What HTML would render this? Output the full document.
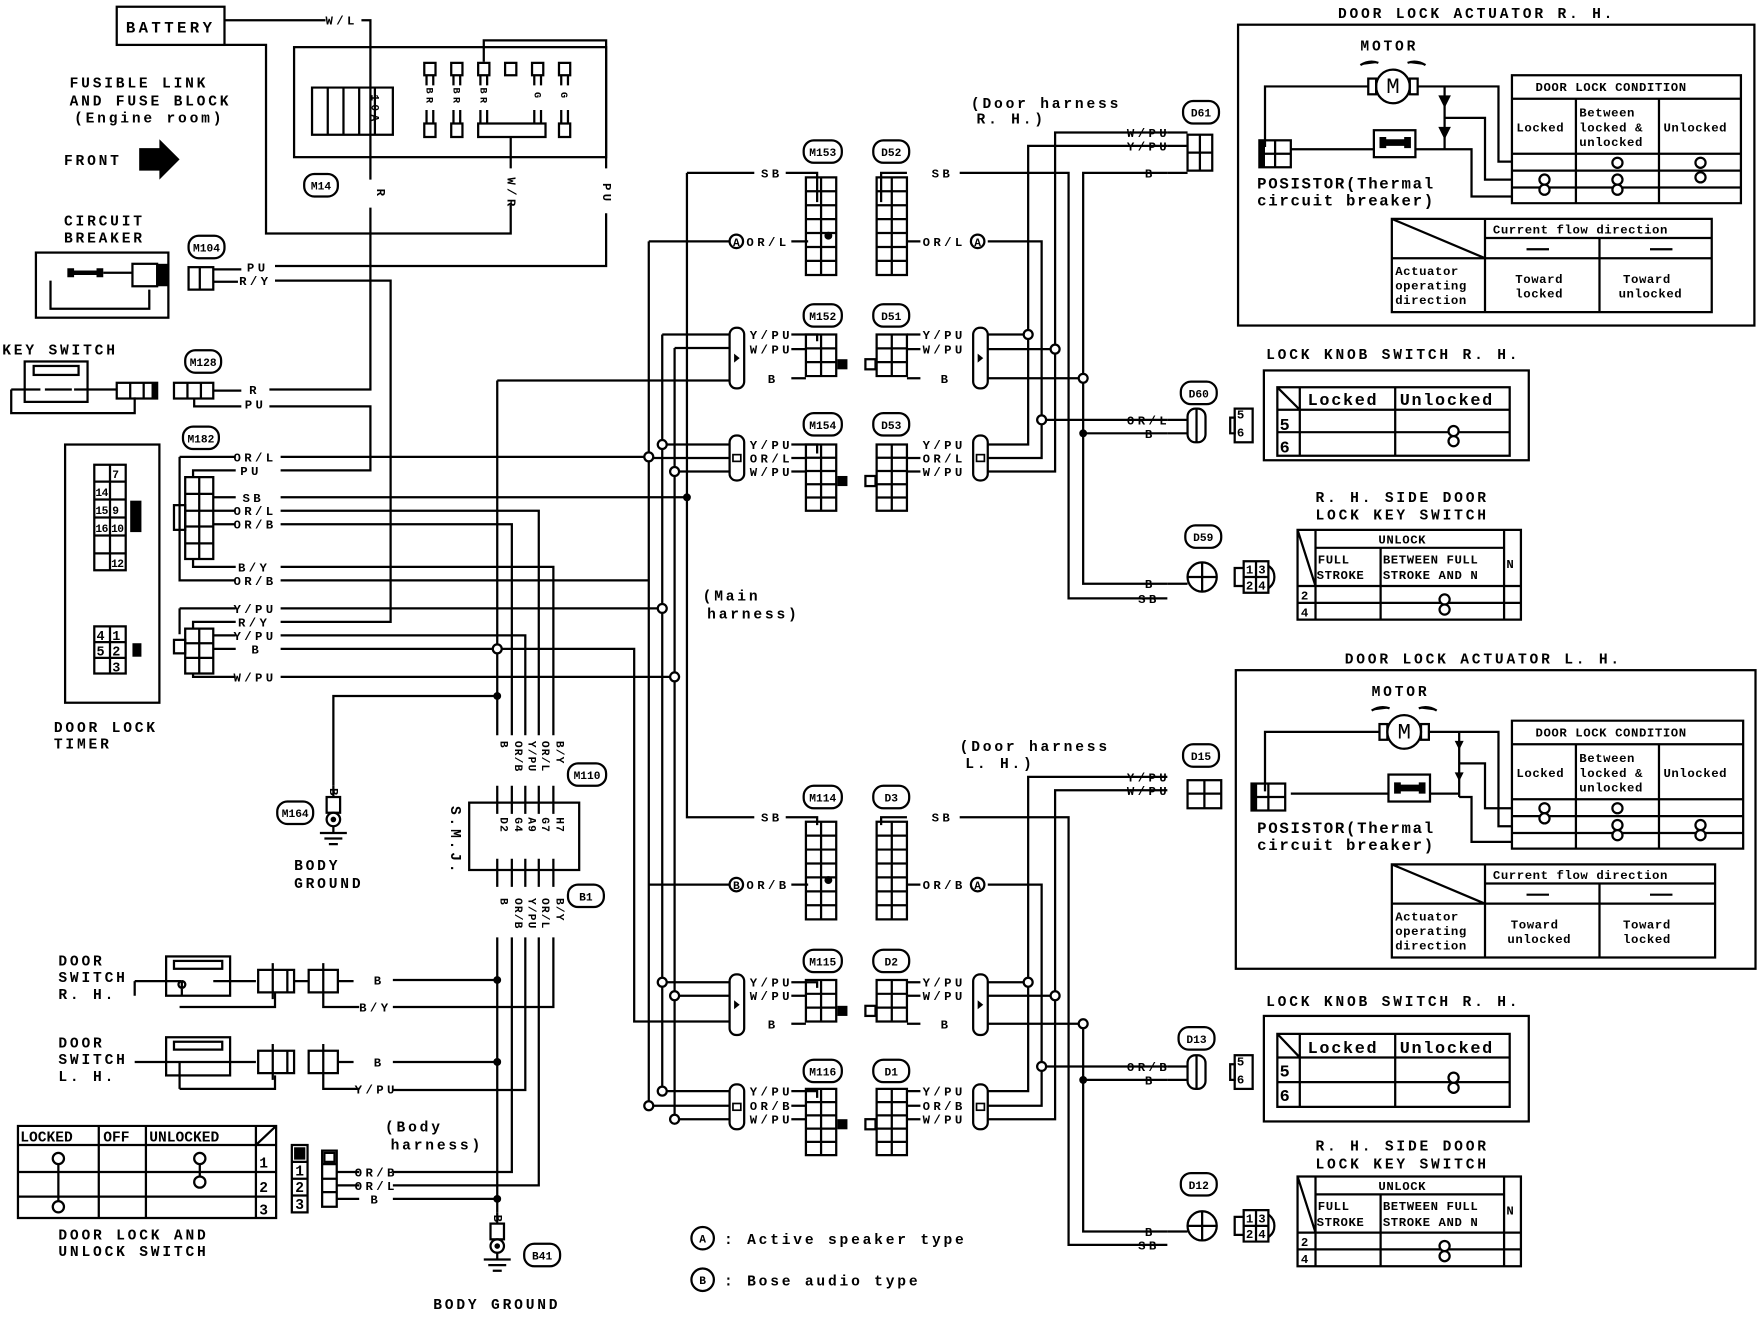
<!DOCTYPE html>
<html><head><meta charset="utf-8"><style>
html,body{margin:0;padding:0;background:#fff}
svg{display:block}
text{font-family:"Liberation Mono",monospace;font-weight:bold;fill:#000}
.s{font-size:11px;letter-spacing:3px}
.m{font-size:13px;letter-spacing:2.5px}
.l{font-size:14px;letter-spacing:3px}
.n{font-size:12px;letter-spacing:0.5px;font-weight:normal}
.o{font-size:10px;letter-spacing:0}
</style></head><body>
<svg width="1760" height="1328" viewBox="0 0 1568 1183" preserveAspectRatio="none" xmlns="http://www.w3.org/2000/svg">
<defs>
<symbol id="g7" overflow="visible"><path d="M0 0H27V87H0Z M13.5 0V87 M0 12.4H27 M0 24.8H27 M0 37.2H27 M0 49.6H27 M0 62H27 M0 74.4H27" fill="none" stroke="#000" stroke-width="2"/></symbol>
<symbol id="g3" overflow="visible"><path d="M0 0H27V37H0Z M13.5 0V37 M0 12.3H27 M0 24.6H27" fill="none" stroke="#000" stroke-width="2"/></symbol>
<symbol id="g5" overflow="visible"><path d="M0 0H27V59H0Z M13.5 0V59 M0 11.8H27 M0 23.6H27 M0 35.4H27 M0 47.2H27" fill="none" stroke="#000" stroke-width="2"/></symbol>
<symbol id="cap" overflow="visible"><rect x="0" y="0" width="13" height="54" rx="6" fill="#fff" stroke="#000" stroke-width="2"/><path d="M4 23L9 27L4 31Z" fill="#000"/></symbol>
<symbol id="capb" overflow="visible"><rect x="0" y="0" width="13" height="40" rx="6" fill="#fff" stroke="#000" stroke-width="2"/><rect x="3" y="17" width="7" height="6" fill="none" stroke="#000" stroke-width="1.5"/></symbol>
<symbol id="gnd" overflow="visible"><rect x="-6" y="0" width="12" height="14" fill="#fff" stroke="#000" stroke-width="2"/><circle cx="0" cy="20" r="6" fill="#fff" stroke="#000" stroke-width="2"/><circle cx="0" cy="20" r="2.5" fill="#000"/><path d="M0 26V32 M-12 32H12 M-8 37H8 M-4 42H4" stroke="#000" stroke-width="2"/></symbol>
<symbol id="oc" overflow="visible"><circle cx="0" cy="-4" r="4.5" fill="#fff" stroke="#000" stroke-width="2"/><circle cx="0" cy="5" r="4.5" fill="#fff" stroke="#000" stroke-width="2"/><path d="M0 0.5V1" stroke="#000" stroke-width="2"/></symbol>
<symbol id="oc1" overflow="visible"><circle cx="0" cy="0" r="4.5" fill="#fff" stroke="#000" stroke-width="2"/></symbol>
</defs>

<g fill="none" stroke="#000" stroke-width="2">
<rect x="104" y="6" width="96" height="34"/>
<path d="M200 18H290 M322 18H330V140 M200 40H237V208H455V182 M455 150V122 M431 55V36H540V150 M540 190V237H245 M330 140V160 M330 185V347H240 M240 362H330V419H250 M245 250H348V554H250"/>
<rect x="262" y="42" width="278" height="98"/>
<path d="M278 78H350V120H278Z M292 78V120 M306 78V120 M320 78V120 M334 78V120"/>
<path d="M378 56h10v11h-10z M380 67v9 M386 67v9 M380 98v12 M386 98v12 M378 110h10v12h-10z
M402 56h10v11h-10z M404 67v9 M410 67v9 M404 98v12 M410 98v12 M402 110h10v12h-10z
M426 56h10v11h-10z M428 67v9 M434 67v9 M428 98v12 M434 98v12
M450 56h10v11h-10z
M474 56h10v11h-10z M476 67v9 M482 67v9 M476 98v12 M482 98v12
M498 56h10v11h-10z M500 67v9 M506 67v9 M500 98v12 M506 98v12 M498 110h10v12h-10z
M426 110H486V122H426Z"/>
<rect x="32" y="225" width="118" height="58"/>
<path d="M92 243H118 M45 250V275H133V258"/>
<rect x="118" y="235" width="22" height="20"/>
<rect x="168" y="238" width="22" height="20"/><path d="M178 238V258 M190 240H215 M190 251H212"/>
<rect x="22" y="322" width="56" height="36"/><rect x="30" y="326" width="40" height="8"/>
<path d="M10 347H36 M66 347H104 M10 347V368H120V354 M40 347H64"/>
<rect x="104" y="341" width="36" height="14"/><path d="M116 341V355 M128 341V355"/>
<rect x="155" y="341" width="35" height="14"/><path d="M167 341V355 M179 341V355 M190 348H215 M173 355V362H215"/>
<rect x="58" y="396" width="84" height="230"/>
<path d="M84 414H112V508H84Z M98 414V508 M84 429H112 M84 445H112 M84 461H112 M84 477H112 M84 493H112"/>
<path d="M84 558H112V600H84Z M98 558V600 M84 572H112 M84 586H112"/>
<path d="M165 425H190V498H165Z M177.5 425V498 M165 440H190 M165 455H190 M165 469H190 M165 484H190"/>
<rect x="155" y="450" width="10" height="22"/>
<path d="M190 443H210 M190 455H210 M190 467H210 M160 407H210 M160 407V517H210 M172 425V419H210 M172 498V505H210"/>
<path d="M165 560H190V600H165Z M177.5 560V600 M165 573H190 M165 586H190"/>
<rect x="155" y="570" width="10" height="12"/>
<path d="M160 542H210 M160 542V565 M172 560V554H210 M190 566H210 M190 578H210 M172 600V603H210"/>
<path d="M250 407H578 M250 443H612 M250 455H480V655 M250 467H456V655 M250 505H493V655 M250 517H578 M250 542H590 M250 566H468V655 M250 578H565V910H650 M250 603H601 M443 339H650 M443 339V655 M443 620H297V700"/>
<rect x="418" y="715" width="98" height="60"/>
<path d="M443 700V725 M456 700V725 M468 700V725 M480 700V725 M493 700V725 M443 765V790 M456 765V790 M468 765V790 M480 765V790 M493 765V790"/>
<path d="M443 835V1080 M456 835V1044H350 M468 835V971H350 M480 835V1056H350 M493 835V897H350 M350 873H443 M350 946H443 M350 1068H443"/>
<rect x="148" y="852" width="57" height="35"/><rect x="155" y="856" width="43" height="7"/>
<path d="M120 874H162 M190 874H228 M162 874a3 3 0 1 0 0.1 0 M120 874V887 M245 885V897H160 M162 887V874"/>
<path d="M230 864h26v20h-26z M243 858v32 M256 864h6v20h-6z M275 864h26v20h-26z M288 858v32 M301 874H315 M288 890V897H320 M262 874H270 M275 874H268"/>
<rect x="148" y="924" width="57" height="34"/><rect x="155" y="928" width="43" height="7"/>
<path d="M120 946H228 M245 958V970H160 M160 970V946"/>
<path d="M230 936h26v20h-26z M243 930v32 M256 936h6v20h-6z M275 936h26v20h-26z M288 930v32 M301 946H315 M288 962V970H320"/>
<path d="M16 1003H246V1085H16Z M16 1020H246 M16 1044H246 M16 1066H246 M88 1003V1085 M130 1003V1085 M228 1003V1085 M228 1020L246 1003"/>
<path d="M52 1036V1076 M178 1036V1054"/>
<path d="M260 1020h14v60h-14z M260 1035h14 M260 1050h14 M260 1065h14 M287 1025h13v50h-13z M287 1037h13 M287 1050h13 M287 1062h13 M300 1044H320 M300 1056H320 M300 1068H320"/>
<path d="M612 154H672 M612 154V728H672 M578 215H650 M578 215V985 M590 298V972 M601 310V997 M590 298H650 M601 310H650 M590 396H650 M578 408H650 M601 420H650 M578 788H650 M590 875H650 M601 887H650 M590 972H650 M578 985H650 M601 997H650"/>
<path d="M700 154H728V180 M705 215H720 M705 298H728V304 M705 311H718 M705 337H718 M705 396H728V404 M705 408H718 M705 420H718 M700 728H728V735 M705 788H720 M705 875H728V880 M705 887H718 M705 912H718 M705 972H728V978 M705 985H718 M705 997H718"/>
<path d="M855 154H952V533H1040 M1040 154H965V520H1040 M808 154H785V180 M880 215H928V408H880 M928 374H1040 M880 298H916 M880 311H940 M880 337H965 M880 396H916V130H1040 M880 420H940V118H1040 M965 386H1040 M808 215H820 M820 298H808 M820 311H808 M820 337H808 M820 408H808 M820 420H808"/>
<path d="M855 728H952V1109H1040 M808 728H785V735 M880 912H965V1097H1040 M965 962H1040 M1040 692H916V972H880 M880 875H916 M1040 704H940V997H880 M880 887H940 M880 788H928V985H880 M928 950H1040 M808 788H820 M820 875H808 M820 887H808 M820 912H808 M820 972H808 M820 985H808 M820 997H808"/>
</g>

<use href="#g7" x="718" y="158"/><use href="#g7" x="781" y="158"/>
<use href="#g3" x="718" y="298"/><use href="#g3" x="781" y="298"/>
<use href="#g5" x="718" y="396"/><use href="#g5" x="781" y="396"/>
<use href="#g7" x="718" y="732"/><use href="#g7" x="781" y="732"/>
<use href="#g3" x="718" y="873"/><use href="#g3" x="781" y="873"/>
<use href="#g5" x="718" y="970"/><use href="#g5" x="781" y="970"/>
<use href="#cap" x="650" y="292"/><use href="#cap" x="867" y="292"/>
<use href="#capb" x="650" y="388"/><use href="#capb" x="867" y="388"/>
<use href="#cap" x="650" y="868"/><use href="#cap" x="867" y="868"/>
<use href="#capb" x="650" y="966"/><use href="#capb" x="867" y="966"/>
<g fill="#000"><circle cx="738" cy="210" r="3.5"/><circle cx="738" cy="784" r="3.5"/><rect x="746" y="320" width="9" height="9"/><rect x="746" y="424" width="9" height="9"/><rect x="746" y="896" width="9" height="9"/><rect x="746" y="997" width="9" height="9"/></g>
<g fill="#fff" stroke="#000" stroke-width="2"><rect x="771" y="320" width="9" height="9"/><rect x="771" y="424" width="9" height="9"/><rect x="771" y="896" width="9" height="9"/><rect x="771" y="997" width="9" height="9"/></g>

<g fill="#fff" stroke="#000" stroke-width="2">
<circle cx="578" cy="407" r="4"/><circle cx="590" cy="396" r="4"/><circle cx="601" cy="420" r="4"/><circle cx="590" cy="542" r="4"/><circle cx="601" cy="603" r="4"/><circle cx="443" cy="578" r="4"/>
<circle cx="916" cy="298" r="4"/><circle cx="940" cy="311" r="4"/><circle cx="965" cy="337" r="4"/><circle cx="928" cy="374" r="4"/>
<circle cx="590" cy="875" r="4"/><circle cx="601" cy="887" r="4"/><circle cx="578" cy="985" r="4"/><circle cx="590" cy="972" r="4"/><circle cx="601" cy="997" r="4"/>
<circle cx="916" cy="875" r="4"/><circle cx="940" cy="887" r="4"/><circle cx="965" cy="912" r="4"/><circle cx="928" cy="950" r="4"/>
<circle cx="656" cy="215" r="6"/><circle cx="871" cy="215" r="6"/><circle cx="656" cy="788" r="6"/><circle cx="871" cy="788" r="6"/>
<circle cx="626" cy="1103" r="10"/><circle cx="626" cy="1140" r="10"/>
</g>
<g fill="#000"><circle cx="612" cy="443" r="3.5"/><circle cx="443" cy="620" r="3.5"/><circle cx="965" cy="386" r="3.5"/><circle cx="965" cy="962" r="3.5"/><circle cx="443" cy="873" r="3.5"/><circle cx="443" cy="946" r="3.5"/><circle cx="443" cy="1068" r="3.5"/></g>
<g class="o" text-anchor="middle"><text x="656" y="219">A</text><text x="871" y="219">A</text><text x="656" y="792">B</text><text x="871" y="792">A</text></g>

<use href="#gnd" x="297" y="710"/><use href="#gnd" x="443" y="1090"/>
<path d="M297 700V710 M443 1080V1090" stroke="#000" stroke-width="2"/>

<g fill="#fff" stroke="#000" stroke-width="2">
<rect x="271" y="155" width="30" height="20" rx="9"/><rect x="168" y="210" width="32" height="20" rx="9"/><rect x="165" y="312" width="32" height="20" rx="9"/><rect x="163" y="380" width="32" height="20" rx="9"/>
<rect x="247" y="714" width="32" height="20" rx="9"/><rect x="506" y="680" width="34" height="20" rx="9"/><rect x="506" y="788" width="32" height="20" rx="9"/><rect x="467" y="1108" width="32" height="20" rx="9"/>
<rect x="716" y="125" width="34" height="20" rx="9"/><rect x="778" y="125" width="32" height="20" rx="9"/><rect x="716" y="271" width="34" height="20" rx="9"/><rect x="778" y="271" width="32" height="20" rx="9"/><rect x="716" y="368" width="34" height="20" rx="9"/><rect x="778" y="368" width="32" height="20" rx="9"/>
<rect x="716" y="700" width="34" height="20" rx="9"/><rect x="778" y="700" width="32" height="20" rx="9"/><rect x="716" y="846" width="34" height="20" rx="9"/><rect x="778" y="846" width="32" height="20" rx="9"/><rect x="716" y="944" width="34" height="20" rx="9"/><rect x="778" y="944" width="32" height="20" rx="9"/>
<rect x="1054" y="90" width="32" height="20" rx="9"/><rect x="1052" y="340" width="32" height="20" rx="9"/><rect x="1056" y="468" width="32" height="20" rx="9"/>
<rect x="1054" y="663" width="32" height="20" rx="9"/><rect x="1050" y="915" width="32" height="20" rx="9"/><rect x="1052" y="1045" width="32" height="20" rx="9"/>
</g>
<g class="o" text-anchor="middle">
<text x="286" y="169">M14</text><text x="184" y="224">M104</text><text x="181" y="326">M128</text><text x="179" y="394">M182</text>
<text x="263" y="728">M164</text><text x="523" y="694">M110</text><text x="522" y="802">B1</text><text x="483" y="1122">B41</text>
<text x="733" y="139">M153</text><text x="794" y="139">D52</text><text x="733" y="285">M152</text><text x="794" y="285">D51</text><text x="733" y="382">M154</text><text x="794" y="382">D53</text>
<text x="733" y="714">M114</text><text x="794" y="714">D3</text><text x="733" y="860">M115</text><text x="794" y="860">D2</text><text x="733" y="958">M116</text><text x="794" y="958">D1</text>
<text x="1070" y="104">D61</text><text x="1068" y="354">D60</text><text x="1072" y="482">D59</text>
<text x="1070" y="677">D15</text><text x="1066" y="929">D13</text><text x="1068" y="1059">D12</text>
</g>

<text x="152" y="29" class="l" text-anchor="middle">BATTERY</text>
<text x="290" y="22" class="s">W/L</text>
<g class="m"><text x="62" y="78">FUSIBLE LINK</text><text x="62" y="94">AND FUSE BLOCK</text><text x="66" y="109">(Engine room)</text>
<text x="57" y="147">FRONT</text><text x="57" y="201">CIRCUIT</text><text x="57" y="216">BREAKER</text><text x="2" y="316">KEY SWITCH</text>
<text x="48" y="652">DOOR LOCK</text><text x="48" y="667">TIMER</text><text x="262" y="775">BODY</text><text x="262" y="791">GROUND</text>
<text x="52" y="860">DOOR</text><text x="52" y="875">SWITCH</text><text x="52" y="890">R. H.</text>
<text x="52" y="933">DOOR</text><text x="52" y="948">SWITCH</text><text x="52" y="963">L. H.</text>
<text x="52" y="1104">DOOR LOCK AND</text><text x="52" y="1119">UNLOCK SWITCH</text>
<text x="343" y="1008">(Body</text><text x="348" y="1024">harness)</text>
<text x="386" y="1166">BODY GROUND</text>
<text x="626" y="535">(Main</text><text x="630" y="551">harness)</text>
<text x="645" y="1108">: Active speaker type</text><text x="645" y="1145">: Bose audio type</text>
<text x="865" y="96">(Door harness</text><text x="870" y="110">R. H.)</text>
<text x="855" y="669">(Door harness</text><text x="860" y="684">L. H.)</text>
</g>
<path d="M124 132H142V124L160 142L142 160V152H124Z" fill="#000"/>
<path d="M60 239h6v8h-6z M86 239h6v8h-6z M66 241H86v4H66z" fill="#000"/>
<rect x="140" y="235" width="10" height="20" fill="#000"/>
<rect x="135" y="341" width="5" height="14" fill="#000"/>
<rect x="116" y="446" width="10" height="28" fill="#000"/>
<rect x="118" y="573" width="8" height="12" fill="#000"/>
<g class="n" style="font-size:10px;letter-spacing:-0.5px"><text x="100" y="426">7</text><text x="85" y="442">14</text><text x="85" y="458">15</text><text x="100" y="458">9</text><text x="85" y="474">16</text><text x="99" y="474">10</text><text x="99" y="505">12</text></g>
<g class="n"><text x="86" y="570">4</text><text x="100" y="570">1</text><text x="86" y="584">5</text><text x="100" y="584">2</text><text x="100" y="598">3</text></g>
<g class="s"><text x="220" y="242">PU</text><text x="213" y="254">R/Y</text><text x="222" y="351">R</text><text x="218" y="364">PU</text>
<text x="208" y="411">OR/L</text><text x="214" y="423">PU</text><text x="216" y="447">SB</text><text x="208" y="459">OR/L</text><text x="208" y="471">OR/B</text><text x="212" y="509">B/Y</text><text x="208" y="521">OR/B</text>
<text x="208" y="546">Y/PU</text><text x="212" y="558">R/Y</text><text x="208" y="570">Y/PU</text><text x="224" y="582">B</text><text x="208" y="607">W/PU</text>
<text x="333" y="877">B</text><text x="320" y="901">B/Y</text><text x="333" y="950">B</text><text x="316" y="974">Y/PU</text>
<text x="316" y="1048">OR/B</text><text x="316" y="1060">OR/L</text><text x="330" y="1072">B</text>
<text x="678" y="158">SB</text><text x="665" y="219">OR/L</text><text x="668" y="302">Y/PU</text><text x="668" y="315">W/PU</text><text x="684" y="341">B</text>
<text x="668" y="400">Y/PU</text><text x="668" y="412">OR/L</text><text x="668" y="424">W/PU</text>
<text x="830" y="158">SB</text><text x="822" y="219">OR/L</text><text x="822" y="302">Y/PU</text><text x="822" y="315">W/PU</text><text x="838" y="341">B</text>
<text x="822" y="400">Y/PU</text><text x="822" y="412">OR/L</text><text x="822" y="424">W/PU</text>
<text x="678" y="732">SB</text><text x="665" y="792">OR/B</text><text x="668" y="879">Y/PU</text><text x="668" y="891">W/PU</text><text x="684" y="916">B</text>
<text x="668" y="976">Y/PU</text><text x="668" y="989">OR/B</text><text x="668" y="1001">W/PU</text>
<text x="830" y="732">SB</text><text x="822" y="792">OR/B</text><text x="822" y="879">Y/PU</text><text x="822" y="891">W/PU</text><text x="838" y="916">B</text>
<text x="822" y="976">Y/PU</text><text x="822" y="989">OR/B</text><text x="822" y="1001">W/PU</text>
<text x="1004" y="122">W/PU</text><text x="1004" y="134">Y/PU</text><text x="1020" y="158">B</text>
<text x="1004" y="378">OR/L</text><text x="1020" y="390">B</text><text x="1020" y="524">B</text><text x="1014" y="537">SB</text>
<text x="1004" y="696">Y/PU</text><text x="1004" y="708">W/PU</text>
<text x="1004" y="954">OR/B</text><text x="1020" y="966">B</text><text x="1020" y="1101">B</text><text x="1014" y="1113">SB</text>
</g>
<g class="s">
<text transform="translate(336,168) rotate(90)">R</text>
<text transform="translate(452,158) rotate(90)">W/R</text>
<text transform="translate(537,163) rotate(90)">PU</text>
<text transform="translate(380,78) rotate(90)" font-size="9">BR</text><text transform="translate(404,78) rotate(90)" font-size="9">BR</text><text transform="translate(428,78) rotate(90)" font-size="9">BR</text><text transform="translate(476,82) rotate(90)" font-size="9">G</text><text transform="translate(500,82) rotate(90)" font-size="9">G</text>
<text transform="translate(331,84) rotate(90)" font-size="10">10A</text>
<text transform="translate(294,702) rotate(90)">B</text><text transform="translate(440,1082) rotate(90)">B</text>
<text transform="translate(402,718) rotate(90)" class="m">S.M.J.</text>
</g>
<g style="font-size:10px;letter-spacing:1px">
<text transform="translate(446,660) rotate(90)">B</text><text transform="translate(459,660) rotate(90)">OR/B</text><text transform="translate(471,660) rotate(90)">Y/PU</text><text transform="translate(483,660) rotate(90)">OR/L</text><text transform="translate(496,660) rotate(90)">B/Y</text>
<text transform="translate(446,728) rotate(90)">D2</text><text transform="translate(459,728) rotate(90)">G4</text><text transform="translate(471,728) rotate(90)">A9</text><text transform="translate(483,728) rotate(90)">G7</text><text transform="translate(496,728) rotate(90)">H7</text>
<text transform="translate(446,800) rotate(90)">B</text><text transform="translate(459,800) rotate(90)">OR/B</text><text transform="translate(471,800) rotate(90)">Y/PU</text><text transform="translate(483,800) rotate(90)">OR/L</text><text transform="translate(496,800) rotate(90)">B/Y</text>
</g>
<g style="font-size:13px;font-weight:normal"><text x="18" y="1017">LOCKED</text><text x="92" y="1017">OFF</text><text x="133" y="1017">UNLOCKED</text>
<text x="231" y="1040">1</text><text x="231" y="1062">2</text><text x="231" y="1082">3</text><text x="263" y="1047">1</text><text x="263" y="1062">2</text><text x="263" y="1077">3</text></g>
<rect x="262" y="1022" width="10" height="11" fill="#000"/>
<g fill="#fff" stroke="#000" stroke-width="2"><circle cx="52" cy="1032" r="5"/><circle cx="52" cy="1075" r="5"/><circle cx="178" cy="1032" r="5"/><circle cx="178" cy="1053" r="5"/><rect x="289" y="1027" width="9" height="8"/></g>
<text x="626" y="1107" class="o" text-anchor="middle">A</text><text x="626" y="1144" class="o" text-anchor="middle">B</text>

<g fill="none" stroke="#000" stroke-width="2">
<rect x="1058" y="120" width="22" height="32"/><path d="M1069 120V152 M1058 136H1080 M1040 118H1058 M1040 130H1058 M1040 154H1058"/>
<rect x="1058" y="364" width="16" height="30" rx="7"/><path d="M1040 374H1058 M1040 386H1058 M1066 364V394"/>
<rect x="1100" y="364" width="16" height="30"/><path d="M1096 372h4v14h-4z"/>
<circle cx="1071" cy="514" r="13"/><path d="M1058 514H1084 M1071 501V527 M1040 520H1058"/>
<path d="M1108 500H1130V528H1108Z M1119 500V528 M1108 514H1130 M1100 506h8v16h-8z M1130 504a12 12 0 0 1 0 20"/>
<rect x="1058" y="695" width="30" height="25"/><path d="M1073 695V720 M1058 707H1088"/>
<rect x="1058" y="940" width="16" height="30" rx="7"/><path d="M1040 950H1058 M1040 962H1058 M1066 940V970"/>
<rect x="1100" y="940" width="16" height="30"/><path d="M1096 948h4v14h-4z"/>
<circle cx="1071" cy="1092" r="13"/><path d="M1058 1092H1084 M1071 1079V1105 M1040 1097H1058"/>
<path d="M1108 1078H1130V1106H1108Z M1119 1078V1106 M1108 1092H1130 M1100 1084h8v16h-8z M1130 1082a12 12 0 0 1 0 20"/>
</g>
<g class="n" style="font-size:11px"><text x="1102" y="373">5</text><text x="1102" y="389">6</text><text x="1102" y="949">5</text><text x="1102" y="965">6</text>
<text x="1110" y="511">1</text><text x="1121" y="511">3</text><text x="1110" y="525">2</text><text x="1121" y="525">4</text>
<text x="1110" y="1089">1</text><text x="1121" y="1089">3</text><text x="1110" y="1103">2</text><text x="1121" y="1103">4</text></g>

<g fill="none" stroke="#000" stroke-width="2">
<rect x="1126" y="330" width="236" height="80"/><path d="M1138 345H1345V406H1138Z M1158 345V406 M1243 345V406 M1138 365H1345 M1138 385H1345 M1138 345L1158 365"/>
<rect x="1126" y="905" width="236" height="94"/><path d="M1138 921H1345V986H1138Z M1158 921V986 M1243 921V986 M1138 942H1345 M1138 964H1345 M1138 921L1158 942"/>
<path d="M1156 472H1355V552H1156Z M1172 472V552 M1230 488V552 M1340 472V552 M1172 488H1340 M1156 522H1355 M1156 537H1355 M1156 472L1172 522"/>
<path d="M1156 1048H1355V1128H1156Z M1172 1048V1128 M1230 1064V1128 M1340 1048V1128 M1172 1064H1340 M1156 1098H1355 M1156 1113H1355 M1156 1048L1172 1098"/>
</g>
<use href="#oc" x="1295" y="388"/><use href="#oc" x="1295" y="964"/><use href="#oc" x="1287" y="538"/><use href="#oc" x="1287" y="1114"/>
<g style="font-size:15px;letter-spacing:1.5px;font-weight:normal"><text x="1165" y="361">Locked</text><text x="1247" y="361">Unlocked</text><text x="1140" y="383">5</text><text x="1140" y="403">6</text>
<text x="1165" y="938">Locked</text><text x="1247" y="938">Unlocked</text><text x="1140" y="959">5</text><text x="1140" y="981">6</text></g>
<g class="m"><text x="1128" y="320">LOCK KNOB SWITCH R. H.</text><text x="1172" y="447">R. H.  SIDE DOOR</text><text x="1172" y="463">LOCK KEY SWITCH</text>
<text x="1128" y="896">LOCK KNOB SWITCH R. H.</text><text x="1172" y="1025">R. H.  SIDE DOOR</text><text x="1172" y="1041">LOCK KEY SWITCH</text></g>
<g style="font-size:11px;letter-spacing:0.5px"><text x="1228" y="484">UNLOCK</text><text x="1174" y="502">FULL</text><text x="1173" y="516">STROKE</text><text x="1232" y="502">BETWEEN FULL</text><text x="1232" y="516">STROKE AND N</text><text x="1342" y="506">N</text><text x="1159" y="534">2</text><text x="1159" y="549">4</text>
<text x="1228" y="1060">UNLOCK</text><text x="1174" y="1078">FULL</text><text x="1173" y="1092">STROKE</text><text x="1232" y="1078">BETWEEN FULL</text><text x="1232" y="1092">STROKE AND N</text><text x="1342" y="1082">N</text><text x="1159" y="1110">2</text><text x="1159" y="1125">4</text></g>

<g fill="none" stroke="#000" stroke-width="2">
<rect x="1103" y="22" width="460" height="268"/>
<circle cx="1241" cy="77" r="15"/><rect x="1219" y="70" width="7" height="14"/><rect x="1256" y="70" width="7" height="14"/>
<path d="M1127 131V77H1219 M1263 77H1287V133 M1150 133H1224 M1261 133H1287 M1287 77H1335V144H1347 M1287 105H1323V160H1347 M1287 133H1311V175H1347"/>
<rect x="1224" y="116" width="37" height="24"/>
<rect x="1122" y="125" width="28" height="24"/><path d="M1136 125V149 M1122 137H1150"/>
<path d="M1347 67H1551V181H1347Z M1347 88H1551 M1347 137H1551 M1347 152H1551 M1347 167H1551 M1404 88V181 M1478 88V181"/>
<path d="M1240 195H1525V278H1240Z M1323 195V278 M1240 230H1525 M1323 212H1525 M1425 212V278 M1240 195L1323 230"/>
</g>
<path d="M1122 125h5v24h-5z M1231 124h24v6h-24z M1229 122h6v10h-6z M1251 122h6v10h-6z" fill="#000"/>
<path d="M1283 86L1291 86L1287 94Z M1283 114L1291 114L1287 122Z M1212 58Q1220 53 1228 56 M1254 56Q1262 53 1270 58 M1360 222H1380 M1470 222H1490" stroke="#000" stroke-width="2" fill="#000"/>
<text x="1241" y="83" text-anchor="middle" style="font-size:20px;font-weight:normal">M</text>
<g class="m"><text x="1192" y="16">DOOR LOCK ACTUATOR R. H.</text><text x="1212" y="45">MOTOR</text></g>
<g style="font-size:14px;letter-spacing:1.5px;font-weight:normal"><text x="1120" y="168">POSISTOR(Thermal</text><text x="1120" y="183">circuit breaker)</text></g>
<g style="font-size:11px;letter-spacing:0.5px"><text x="1368" y="81">DOOR LOCK CONDITION</text><text x="1351" y="117">Locked</text><text x="1407" y="104">Between</text><text x="1407" y="117">locked &amp;</text><text x="1407" y="130">unlocked</text><text x="1482" y="117">Unlocked</text>
<text x="1330" y="208">Current flow direction</text><text x="1243" y="245">Actuator</text><text x="1243" y="258">operating</text><text x="1243" y="271">direction</text>
<text x="1350" y="252">Toward</text><text x="1350" y="265">locked</text><text x="1446" y="252">Toward</text><text x="1442" y="265">unlocked</text></g>
<use href="#oc" x="1376" y="164"/><use href="#oc1" x="1441" y="145"/><use href="#oc" x="1441" y="164"/><use href="#oc1" x="1515" y="145"/><use href="#oc1" x="1515" y="158"/>

<g fill="none" stroke="#000" stroke-width="2">
<rect x="1101" y="597" width="463" height="266"/>
<circle cx="1251" cy="652" r="15"/><rect x="1229" y="645" width="7" height="14"/><rect x="1266" y="645" width="7" height="14"/>
<path d="M1127 705V652H1229 M1273 652H1300V710 M1150 707H1237 M1274 707H1300 M1300 652H1335V736H1347 M1300 680H1323V720H1347 M1300 710H1311V750H1347"/>
<rect x="1237" y="690" width="37" height="24"/>
<rect x="1115" y="698" width="30" height="24"/><path d="M1130 698V722 M1115 710H1145"/>
<path d="M1347 642H1553V756H1347Z M1347 663H1553 M1347 712H1553 M1347 727H1553 M1347 742H1553 M1404 663V756 M1478 663V756"/>
<path d="M1240 770H1528V853H1240Z M1323 770V853 M1240 805H1528 M1323 787H1528 M1425 787V853 M1240 770L1323 805"/>
</g>
<path d="M1115 698h5v24h-5z M1244 699h24v6h-24z M1242 697h6v10h-6z M1264 697h6v10h-6z M1296 660L1304 660L1300 668Z M1296 688L1304 688L1300 696Z" fill="#000"/>
<path d="M1222 633Q1230 628 1238 631 M1264 631Q1272 628 1280 633 M1360 797H1380 M1470 797H1490" stroke="#000" stroke-width="2"/>
<text x="1251" y="658" text-anchor="middle" style="font-size:20px;font-weight:normal">M</text>
<g class="m"><text x="1198" y="591">DOOR LOCK ACTUATOR L. H.</text><text x="1222" y="620">MOTOR</text></g>
<g style="font-size:14px;letter-spacing:1.5px;font-weight:normal"><text x="1120" y="742">POSISTOR(Thermal</text><text x="1120" y="757">circuit breaker)</text></g>
<g style="font-size:11px;letter-spacing:0.5px"><text x="1368" y="656">DOOR LOCK CONDITION</text><text x="1351" y="692">Locked</text><text x="1407" y="679">Between</text><text x="1407" y="692">locked &amp;</text><text x="1407" y="705">unlocked</text><text x="1482" y="692">Unlocked</text>
<text x="1330" y="783">Current flow direction</text><text x="1243" y="820">Actuator</text><text x="1243" y="833">operating</text><text x="1243" y="846">direction</text>
<text x="1346" y="827">Toward</text><text x="1343" y="840">unlocked</text><text x="1446" y="827">Toward</text><text x="1446" y="840">locked</text></g>
<use href="#oc" x="1376" y="724"/><use href="#oc1" x="1441" y="720"/><use href="#oc" x="1441" y="739"/><use href="#oc" x="1515" y="739"/>
</svg>
</body></html>
